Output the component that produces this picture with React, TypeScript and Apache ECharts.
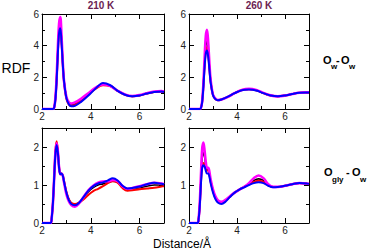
import React, { useEffect, useRef } from "react";
import * as echarts from "echarts";

// ---- data ----
const distOw = [2.0, 2.45, 2.5, 2.55, 2.6, 2.65, 2.7, 2.75, 2.8, 2.85, 2.9, 3.0, 3.1, 3.2, 3.35, 3.6, 3.9, 4.2, 4.5, 4.8, 5.1, 5.4, 5.7, 6.0, 6.3, 6.6, 6.9, 7.0];
const ow210Black = [0, 0, 0.1, 0.65, 1.9, 3.7, 5.0, 5.3, 4.3, 2.9, 1.8, 0.72, 0.36, 0.28, 0.33, 0.58, 0.95, 1.32, 1.55, 1.45, 1.13, 0.9, 0.8, 0.86, 0.98, 1.08, 1.1, 1.08];
const ow210Red = [0, 0, 0.1, 0.62, 1.85, 3.6, 4.95, 5.25, 4.3, 2.9, 1.75, 0.65, 0.28, 0.2, 0.25, 0.52, 0.9, 1.28, 1.5, 1.45, 1.15, 0.9, 0.8, 0.85, 0.98, 1.08, 1.1, 1.08];
const ow210Magenta = [0, 0, 0.1, 0.7, 2.0, 3.9, 5.4, 5.8, 4.6, 3.0, 1.8, 0.75, 0.42, 0.35, 0.42, 0.65, 1.0, 1.35, 1.55, 1.45, 1.15, 0.92, 0.82, 0.88, 1.0, 1.1, 1.13, 1.1];
const ow210Blue = [0, 0, 0.1, 0.6, 1.8, 3.5, 4.8, 5.1, 4.2, 2.9, 1.8, 0.7, 0.3, 0.17, 0.2, 0.45, 0.85, 1.3, 1.65, 1.5, 1.15, 0.9, 0.8, 0.85, 0.98, 1.08, 1.1, 1.08];

const ow260Black = [0, 0, 0.08, 0.48, 1.5, 2.9, 4.0, 4.3, 3.7, 2.7, 1.8, 0.88, 0.63, 0.56, 0.6, 0.75, 1.0, 1.2, 1.25, 1.18, 1.0, 0.85, 0.8, 0.85, 0.95, 1.03, 1.05, 1.05];
const ow260Red = [0, 0, 0.08, 0.46, 1.45, 2.75, 3.7, 3.9, 3.45, 2.6, 1.75, 0.88, 0.63, 0.56, 0.6, 0.75, 1.0, 1.2, 1.24, 1.18, 1.0, 0.85, 0.8, 0.85, 0.95, 1.03, 1.05, 1.05];
const ow260Magenta = [0, 0, 0.08, 0.5, 1.6, 3.2, 4.6, 5.0, 4.2, 2.9, 1.85, 0.9, 0.65, 0.57, 0.6, 0.75, 1.0, 1.2, 1.27, 1.2, 1.02, 0.86, 0.8, 0.85, 0.95, 1.03, 1.05, 1.05];
const ow260Blue = [0, 0, 0.08, 0.45, 1.4, 2.65, 3.5, 3.7, 3.3, 2.5, 1.7, 0.87, 0.62, 0.55, 0.6, 0.76, 1.0, 1.19, 1.23, 1.17, 1.0, 0.85, 0.8, 0.85, 0.95, 1.03, 1.05, 1.05];

const distGly = [2.0, 2.35, 2.4, 2.45, 2.5, 2.55, 2.6, 2.65, 2.7, 2.75, 2.8, 2.85, 2.9, 3.0, 3.1, 3.2, 3.35, 3.5, 3.7, 3.9, 4.1, 4.3, 4.5, 4.7, 4.9, 5.1, 5.3, 5.5, 5.7, 6.0, 6.3, 6.6, 6.9, 7.0];
const gly210Black = [0, 0, 0.15, 0.55, 1.2, 1.85, 2.1, 1.88, 1.47, 1.29, 1.3, 1.25, 1.1, 0.8, 0.62, 0.52, 0.48, 0.53, 0.67, 0.82, 0.93, 1.0, 1.03, 1.07, 1.1, 1.07, 0.96, 0.9, 0.9, 0.93, 0.97, 1.0, 1.0, 1.0];
const gly210Red = [0, 0, 0.15, 0.55, 1.22, 1.9, 2.15, 1.9, 1.48, 1.3, 1.3, 1.26, 1.12, 0.82, 0.63, 0.53, 0.5, 0.53, 0.62, 0.74, 0.84, 0.9, 0.97, 1.05, 1.1, 1.06, 0.92, 0.85, 0.86, 0.89, 0.91, 0.93, 0.96, 0.97];
const gly210Magenta = [0, 0, 0.15, 0.55, 1.2, 1.85, 2.1, 1.88, 1.46, 1.28, 1.3, 1.25, 1.08, 0.76, 0.57, 0.47, 0.43, 0.5, 0.68, 0.86, 0.98, 1.06, 1.09, 1.1, 1.13, 1.1, 0.97, 0.9, 0.92, 0.97, 1.02, 1.06, 1.04, 1.02];
const gly210Blue = [0, 0, 0.15, 0.55, 1.2, 1.8, 2.05, 1.85, 1.45, 1.28, 1.3, 1.25, 1.1, 0.8, 0.6, 0.5, 0.47, 0.52, 0.68, 0.85, 0.97, 1.04, 1.07, 1.12, 1.18, 1.12, 0.98, 0.91, 0.92, 0.96, 1.02, 1.06, 1.03, 1.02];

const gly260Black = [0, 0, 0.1, 0.5, 1.15, 1.7, 1.85, 1.75, 1.5, 1.4, 1.4, 1.3, 1.12, 0.86, 0.68, 0.58, 0.54, 0.58, 0.69, 0.8, 0.88, 0.95, 1.03, 1.12, 1.16, 1.12, 1.0, 0.95, 0.95, 0.98, 1.02, 1.05, 1.04, 1.03];
const gly260Red = [0, 0, 0.1, 0.48, 1.1, 1.5, 1.58, 1.55, 1.45, 1.38, 1.38, 1.28, 1.1, 0.84, 0.66, 0.56, 0.52, 0.57, 0.69, 0.8, 0.88, 0.95, 1.02, 1.08, 1.11, 1.08, 0.99, 0.95, 0.95, 0.98, 1.02, 1.05, 1.04, 1.03];
const gly260Magenta = [0, 0, 0.12, 0.55, 1.3, 1.95, 2.12, 1.9, 1.6, 1.45, 1.45, 1.35, 1.15, 0.88, 0.7, 0.6, 0.56, 0.6, 0.7, 0.8, 0.88, 0.95, 1.05, 1.18, 1.25, 1.18, 1.02, 0.95, 0.95, 0.98, 1.02, 1.05, 1.04, 1.03];
const gly260Blue = [0, 0, 0.1, 0.46, 1.05, 1.45, 1.52, 1.48, 1.38, 1.3, 1.3, 1.22, 1.05, 0.8, 0.63, 0.54, 0.5, 0.55, 0.68, 0.8, 0.88, 0.94, 1.0, 1.05, 1.07, 1.05, 0.98, 0.94, 0.95, 0.98, 1.02, 1.05, 1.04, 1.03];

const xTicks = [2, 4, 6];
const yTicksOw = [0, 2, 4, 6];
const yTicksGly = [0, 1, 2];
const panelTitles = ["210 K", "260 K"];

const colors = { black: "#000000", red: "#ff0000", magenta: "#ff00ff", blue: "#0000ff" };

const pair = (xs: number[], ys: number[]) => xs.map((x, i) => [x, ys[i]]);

export default function App() {
  const ref = useRef<HTMLDivElement>(null);
  useEffect(() => {
    if (!ref.current) return;
    const chart = echarts.init(ref.current, undefined, { renderer: "svg" });
    const grids = [
      { left: 42, top: 14, width: 122, height: 95 },
      { left: 189, top: 14, width: 120, height: 95 },
      { left: 42, top: 128, width: 122, height: 95 },
      { left: 189, top: 128, width: 120, height: 95 },
    ];
    const yMax = [6, 6, 2.5, 2.5];
    const yInt = [2, 2, 1, 1];
    const yLabels = [yTicksOw, yTicksOw, yTicksGly, yTicksGly];
    const font = "Liberation Sans";
    const tickStyle = { color: "#000", width: 1 };
    const mkX = (g: number, top: boolean) => ({
      type: "value",
      gridIndex: g,
      position: top ? "top" : "bottom",
      min: 2,
      max: 7,
      interval: 2,
      axisLine: { show: true, onZero: false, lineStyle: { color: "#000", width: 1 } },
      axisTick: { show: true, inside: true, length: 5, lineStyle: tickStyle },
      minorTick: { show: true, splitNumber: 2, length: 3, lineStyle: tickStyle },
      axisLabel: {
        show: !top,
        margin: 2,
        fontSize: 10,
        fontFamily: font,
        color: "#222",
        formatter: (v: number) => (xTicks.includes(v) ? String(v) : ""),
      },
      splitLine: { show: false },
    });
    const mkY = (g: number, right: boolean) => ({
      type: "value",
      gridIndex: g,
      position: right ? "right" : "left",
      min: 0,
      max: yMax[g],
      interval: yInt[g],
      axisLine: { show: true, onZero: false, lineStyle: { color: "#000", width: 1 } },
      axisTick: { show: true, inside: true, length: 5, lineStyle: tickStyle },
      minorTick: { show: true, splitNumber: 2, length: 3, lineStyle: tickStyle },
      axisLabel: {
        show: !right,
        margin: 3,
        fontSize: 10,
        fontFamily: font,
        color: "#222",
        formatter: (v: number) => (yLabels[g].includes(v) ? String(v) : ""),
      },
      splitLine: { show: false },
    });
    const xAxes = [0, 1, 2, 3].map((g) => mkX(g, false)).concat([0, 1, 2, 3].map((g) => mkX(g, true)));
    const yAxes = [0, 1, 2, 3].map((g) => mkY(g, false)).concat([0, 1, 2, 3].map((g) => mkY(g, true)));

    const panels = [
      { xs: distOw, s: [ow210Black, ow210Red, ow210Magenta, ow210Blue] },
      { xs: distOw, s: [ow260Black, ow260Red, ow260Magenta, ow260Blue] },
      { xs: distGly, s: [gly210Black, gly210Red, gly210Magenta, gly210Blue] },
      { xs: distGly, s: [gly260Black, gly260Red, gly260Magenta, gly260Blue] },
    ];
    const cols = [colors.black, colors.red, colors.magenta, colors.blue];
    const widths = [1.6, 2, 2.6, 2];
    const series: any[] = [];
    panels.forEach((p, g) => {
      p.s.forEach((ys, k) => {
        series.push({
          type: "line",
          xAxisIndex: g,
          yAxisIndex: g,
          data: pair(p.xs, ys),
          smooth: 0.35,
          showSymbol: false,
          lineStyle: { color: cols[k], width: widths[k] },
          silent: true,
        });
      });
    });

    const boldTxt = (text: string, x: number, y: number, size: number) => ({
      type: "text",
      x,
      y,
      style: { text, fontSize: size, fontWeight: "bold", fontFamily: font, fill: "#000", textAlign: "left", textVerticalAlign: "middle" },
    });

    chart.setOption({
      animation: false,
      backgroundColor: "#fff",
      grid: grids.map((g) => ({ ...g, show: false })),
      xAxis: xAxes,
      yAxis: yAxes,
      series,
      graphic: [
        {
          type: "text",
          x: 101,
          y: 5,
          style: { text: panelTitles[0], fontSize: 10, fontWeight: "bold", fontFamily: font, fill: "#6b1d52", textAlign: "center", textVerticalAlign: "middle" },
        },
        {
          type: "text",
          x: 259,
          y: 5,
          style: { text: panelTitles[1], fontSize: 10, fontWeight: "bold", fontFamily: font, fill: "#6b1d52", textAlign: "center", textVerticalAlign: "middle" },
        },
        {
          type: "text",
          x: 16,
          y: 68,
          style: { text: "RDF", fontSize: 14, fontFamily: font, fill: "#000", textAlign: "center", textVerticalAlign: "middle" },
        },
        {
          type: "text",
          x: 182,
          y: 244,
          style: { text: "Distance/Å", fontSize: 12, fontFamily: font, fill: "#000", textAlign: "center", textVerticalAlign: "middle" },
        },
        boldTxt("O", 323, 60, 11),
        boldTxt("w", 331, 66, 8),
        boldTxt("-", 336, 60, 11),
        boldTxt("O", 341, 60, 11),
        boldTxt("w", 349, 66, 8),
        boldTxt("O", 324, 172, 11),
        boldTxt("gly", 332, 179, 8),
        boldTxt("-", 346, 172, 11),
        boldTxt("O", 352, 172, 11),
        boldTxt("w", 360, 179, 8),
      ],
    });
    return () => chart.dispose();
  }, []);
  return <div ref={ref} style={{ position: "absolute", left: 0, top: 0, width: 374, height: 251 }} />;
}
